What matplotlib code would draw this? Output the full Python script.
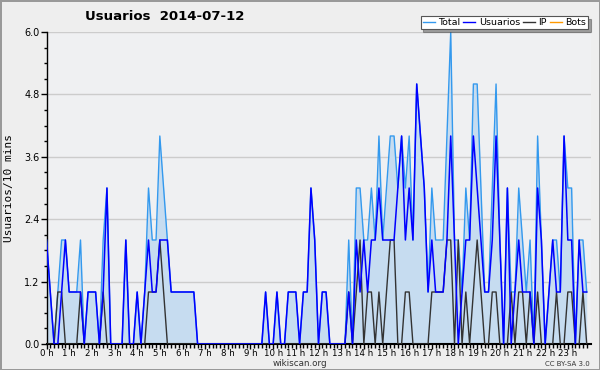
import numpy as np
from matplotlib import pyplot as plt
from matplotlib.ticker import MultipleLocator, FixedLocator
from matplotlib.lines import Line2D

# 10-minute bins over one day (144 values)
usuarios = [2, 1, 0, 0, 1, 2, 1, 1, 1, 1, 0, 1, 1, 1, 0, 1, 3, 0, 0, 0,
            0, 2, 0, 0, 1, 0, 1, 2, 1, 1, 2, 2, 2, 1, 1, 1, 1, 1, 1, 1,
            0, 0, 0, 0, 0, 0, 0, 0, 0, 0, 0, 0, 0, 0, 0, 0, 0, 0, 1, 0,
            0, 1, 0, 0, 1, 1, 1, 0, 1, 1, 3, 2, 0, 1, 1, 0, 0, 0, 0, 0,
            1, 0, 2, 1, 2, 1, 2, 2, 3, 2, 2, 2, 2, 3, 4, 2, 3, 2, 5, 4,
            3, 1, 2, 1, 1, 1, 2, 4, 2, 0, 1, 2, 2, 4, 3, 2, 1, 1, 2, 4,
            2, 0, 3, 0, 1, 2, 1, 1, 1, 0, 3, 2, 0, 1, 2, 1, 1, 4, 2, 2,
            0, 2, 1, 1]
ip = [0, 0, 0, 1, 1, 0, 0, 0, 0, 1, 0, 0, 0, 0, 0, 1, 0, 0, 0, 0,
      0, 0, 0, 0, 0, 0, 0, 1, 1, 1, 2, 1, 0, 0, 0, 0, 0, 0, 0, 0,
      0, 0, 0, 0, 0, 0, 0, 0, 0, 0, 0, 0, 0, 0, 0, 0, 0, 0, 0, 0,
      0, 0, 0, 0, 0, 0, 0, 0, 0, 0, 0, 0, 0, 0, 0, 0, 0, 0, 0, 0,
      1, 0, 1, 2, 0, 1, 1, 0, 1, 0, 1, 2, 2, 0, 0, 1, 1, 0, 0, 0,
      0, 0, 1, 1, 1, 1, 2, 2, 0, 2, 0, 1, 0, 1, 2, 1, 0, 0, 1, 1,
      0, 0, 0, 1, 0, 1, 1, 0, 1, 0, 1, 0, 0, 0, 0, 1, 0, 0, 1, 1,
      0, 0, 1, 0]
total = [2, 1, 0, 1, 2, 2, 1, 1, 1, 2, 0, 1, 1, 1, 0, 2, 3, 0, 0, 0,
         0, 2, 0, 0, 1, 0, 1, 3, 2, 2, 4, 3, 2, 1, 1, 1, 1, 1, 1, 1,
         0, 0, 0, 0, 0, 0, 0, 0, 0, 0, 0, 0, 0, 0, 0, 0, 0, 0, 1, 0,
         0, 1, 0, 0, 1, 1, 1, 0, 1, 1, 3, 2, 0, 1, 1, 0, 0, 0, 0, 0,
         2, 0, 3, 3, 2, 2, 3, 2, 4, 2, 3, 4, 4, 3, 4, 3, 4, 2, 5, 4,
         3, 1, 3, 2, 2, 2, 4, 6, 2, 2, 1, 3, 2, 5, 5, 3, 1, 1, 3, 5,
         2, 0, 3, 1, 1, 3, 2, 1, 2, 0, 4, 2, 0, 1, 2, 2, 1, 4, 3, 3,
         0, 2, 2, 1]
bots = [0] * 144

hour_labels = ['%d h' % h for h in range(24)]
y_ticks = [0.0, 1.2, 2.4, 3.6, 4.8, 6.0]

c_total = '#3399ee'
c_fill = '#c6dcf0'
c_users = '#0000ff'
c_ip = '#333333'
c_bots = '#ff9900'

x = np.arange(len(total)) / 6.0

fig = plt.figure(figsize=(6, 3.7), dpi=100)
fig.patch.set_facecolor('#eeeeee')
fig.patch.set_edgecolor('#999999')
fig.patch.set_linewidth(2)

ax = fig.add_axes([46.5 / 600, 26 / 370, 544 / 600, 312 / 370])
ax.set_facecolor('#eff0f2')

ax.fill_between(x, 0, total, color=c_fill, lw=0, zorder=1)
ax.plot(x, bots, color=c_bots, lw=1, zorder=2)
ax.plot(x, total, color=c_total, lw=1, zorder=3)
ax.plot(x, ip, color=c_ip, lw=1, zorder=4)
ax.plot(x, usuarios, color=c_users, lw=1.1, zorder=5)

ax.set_xlim(0, 24)
ax.set_ylim(0, 6)

for s in ['top', 'right']:
    ax.spines[s].set_visible(False)
ax.spines['left'].set_linewidth(1)
ax.spines['bottom'].set_linewidth(1.5)

ax.set_yticks(y_ticks)
ax.set_yticklabels(['%.1f' % v for v in y_ticks])
ax.yaxis.set_minor_locator(MultipleLocator(0.3))
ax.yaxis.grid(True, color='#cccccc', lw=1)
ax.set_axisbelow(True)

ax.set_xticks(np.arange(24))
ax.set_xticklabels(hour_labels)
ax.xaxis.set_minor_locator(FixedLocator(np.arange(0, 24, 1 / 6.0)))

ax.tick_params(axis='y', which='major', labelsize=7, length=4, width=1, pad=1)
ax.tick_params(axis='y', which='minor', length=2, width=1)
ax.tick_params(axis='x', which='major', labelsize=6.2, length=3.5, width=1, pad=0)
ax.tick_params(axis='x', which='minor', length=3, width=1)

ax.set_ylabel('Usuarios/10 mins', fontsize=8, family='DejaVu Sans Mono', labelpad=7)

fig.text(85 / 600, 1 - 17 / 370, 'Usuarios  2014-07-12', fontsize=9.5,
         fontweight='bold', ha='left', va='center')
fig.text(300 / 600, 1 - 364 / 370, 'wikiscan.org', fontsize=6.3,
         ha='center', va='center', color='#333333')
fig.text(590 / 600, 1 - 364 / 370, 'CC BY-SA 3.0', fontsize=5,
         ha='right', va='center', color='#333333')

handles = [Line2D([], [], color=c_total, lw=1),
           Line2D([], [], color=c_users, lw=1),
           Line2D([], [], color=c_ip, lw=1),
           Line2D([], [], color=c_bots, lw=1)]
leg = fig.legend(handles, ['Total', 'Usuarios', 'IP', 'Bots'], ncol=4,
                 loc='upper right', bbox_to_anchor=(588 / 600, 1 - 16 / 370),
                 fontsize=6.8, frameon=True, fancybox=False, shadow=True,
                 handlelength=1.3, handletextpad=0.35, columnspacing=0.3,
                 borderpad=0.2, borderaxespad=0)
leg.get_frame().set_edgecolor('#555555')
leg.get_frame().set_linewidth(0.8)

fig.savefig('out.png', dpi=100, facecolor=fig.get_facecolor(),
            edgecolor=fig.get_edgecolor())
